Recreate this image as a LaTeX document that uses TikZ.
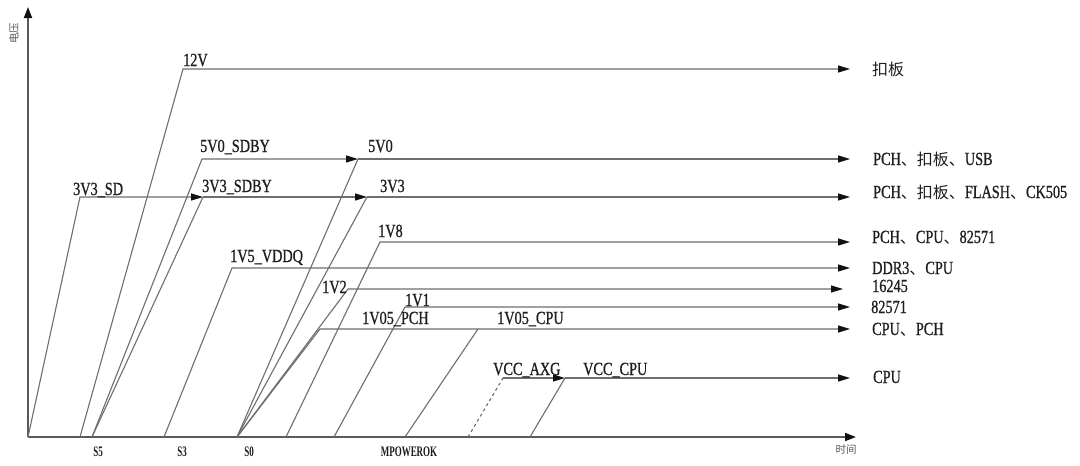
\documentclass[tikz,border=0pt]{standalone}
\usepackage{fontspec}
\setmainfont{Liberation Serif}[FakeStretch=0.77,FakeBold=0.8]
\newfontfamily\cjk{Noto Sans CJK SC}
\newfontfamily\smallfnt{Liberation Serif}[FakeStretch=0.62]
\usetikzlibrary{arrows.meta}
\newcommand{\zhtext}[1]{{\cjk\fontsize{16}{18}\selectfont #1}}
\definecolor{linegray}{HTML}{6E6E6E}
\definecolor{axisgray}{HTML}{5A5A5A}
\definecolor{txt}{HTML}{1E1E1E}
\definecolor{tipcol}{HTML}{111111}
\tikzset{
  sig/.style={draw=linegray, line width=1.1pt},
  sigarrow/.style={sig, -{Triangle[length=12pt,width=7pt,color=tipcol]}},
  axisline/.style={draw=axisgray, line width=1.8pt, -{Triangle[length=11pt,width=8pt,color=tipcol]}},
  lbl/.style={anchor=base west, inner sep=0pt, text=txt, font=\fontsize{18.5}{20}\selectfont},
  rlbl/.style={lbl},
  tick/.style={anchor=center, inner sep=0pt, text=txt, font=\smallfnt\bfseries\fontsize{14.5}{15}\selectfont},
  axlbl/.style={anchor=center, inner sep=0pt, text=axisgray, font=\cjk\fontsize{10.5}{12}\selectfont}
}
\begin{document}
\begin{tikzpicture}[x=1pt,y=-1pt]
\fill[white] (0,0) rectangle (1080,466);
\useasboundingbox (0,0) rectangle (1080,466);
% axes
\coordinate (O) at (28,437);
\coordinate (Ytop) at (28,7);
\coordinate (Xend) at (856,437);
\draw[axisline] (O) -- (Ytop);
\draw[axisline] (O) -- (Xend);
\node[axlbl, rotate=90] (ylab) at (14,33) {电压};
\node[axlbl] (xlab) at (846,450) {时间};
% bottom start points
\coordinate (b12) at (80,437);
\coordinate (bS5) at (92,437);
\coordinate (bS3) at (164,437);
\coordinate (bS0) at (237,437);
\coordinate (b18) at (286,437);
\coordinate (b11) at (334,437);
\coordinate (bMP) at (405,437);
\coordinate (bAXG) at (468,437);
\coordinate (bVCC) at (530,437);
% corners
\coordinate (c12) at (183,69);
\coordinate (cSD) at (80,197);
\coordinate (c5SB) at (202,159);
\coordinate (c3SB) at (203,197);
\coordinate (c5V) at (358,159);
\coordinate (c3V) at (367,197);
\coordinate (c18) at (380,242);
\coordinate (c15) at (232,268);
\coordinate (c12v) at (348,289);
\coordinate (c11) at (405,307);
\coordinate (cPCH) at (320,329);
\coordinate (cCPU) at (478,329);
\coordinate (cAXG) at (503,378);
\coordinate (cVCC) at (565,378);
% right ends
\coordinate (e12) at (850,69);
\coordinate (e5) at (850,159);
\coordinate (e3) at (850,197);
\coordinate (e18) at (850,242);
\coordinate (e15) at (850,268);
\coordinate (e12v) at (843,289);
\coordinate (e11) at (850,307);
\coordinate (e105) at (850,329);
\coordinate (eVCC) at (850,378);
% signals
\draw[sigarrow] (b12) -- (c12) -- (e12);
\draw[sigarrow] (O) -- (cSD) -- (c3SB);
\draw[sig] (bS5) -- (c3SB);
\draw[sigarrow] (c3SB) -- (c3V);
\draw[sigarrow] (c3V) -- (e3);
\draw[sigarrow] (bS5) -- (c5SB) -- (c5V);
\draw[sigarrow] (c5V) -- (e5);
\draw[sig] (bS0) -- (c5V);
\draw[sig] (bS0) -- (c3V);
\draw[sigarrow] (b18) -- (c18) -- (e18);
\draw[sigarrow] (bS3) -- (c15) -- (e15);
\draw[sigarrow] (bS0) -- (c12v) -- (e12v);
\draw[sigarrow] (b11) -- (c11) -- (e11);
\draw[sigarrow] (bS0) -- (cPCH) -- (e105);
\draw[sig] (bMP) -- (cCPU);
\draw[sig, dashed] (bAXG) -- (cAXG);
\draw[sigarrow] (cAXG) -- (cVCC);
\draw[sig] (bVCC) -- (cVCC);
\draw[sigarrow] (cVCC) -- (eVCC);
% signal labels
\node[lbl] (l12) at (183,66) {12V};
\node[lbl] (l5sb) at (200,152) {5V0\_SDBY};
\node[lbl] (l5) at (368,152) {5V0};
\node[lbl] (l3sd) at (73,195) {3V3\_SD};
\node[lbl] (l3sb) at (202,192) {3V3\_SDBY};
\node[lbl] (l3) at (380,192) {3V3};
\node[lbl] (l18) at (378,237) {1V8};
\node[lbl] (l15) at (230,262) {1V5\_VDDQ};
\node[lbl] (l12v) at (322,293) {1V2};
\node[lbl] (l11) at (405,306) {1V1};
\node[lbl] (lpch) at (362,324) {1V05\_PCH};
\node[lbl] (lcpu) at (497,324) {1V05\_CPU};
\node[lbl] (laxg) at (493,375) {VCC\_AXG};
\node[lbl] (lvcc) at (583,375) {VCC\_CPU};
% right labels
\node[rlbl] (r1) at (872,75) {\zhtext{扣板}};
\node[rlbl] (r2) at (873,165) {PCH\zhtext{、扣板、}USB};
\node[rlbl] (r3) at (873,198) {PCH\zhtext{、扣板、}FLASH\zhtext{、}CK505};
\node[rlbl] (r4) at (872,243) {PCH\zhtext{、}CPU\zhtext{、}82571};
\node[rlbl] (r5) at (872,274) {DDR3\zhtext{、}CPU};
\node[rlbl] (r6) at (872,292) {16245};
\node[rlbl] (r7) at (871,313) {82571};
\node[rlbl] (r8) at (872,335) {CPU\zhtext{、}PCH};
\node[rlbl] (r9) at (873,383) {CPU};
% ticks
\node[tick] (tS5) at (98,452) {S5};
\node[tick] (tS3) at (182,452) {S3};
\node[tick] (tS0) at (249,452) {S0};
\node[tick] (tMP) at (409,452) {MPOWEROK};
\end{tikzpicture}
\end{document}
